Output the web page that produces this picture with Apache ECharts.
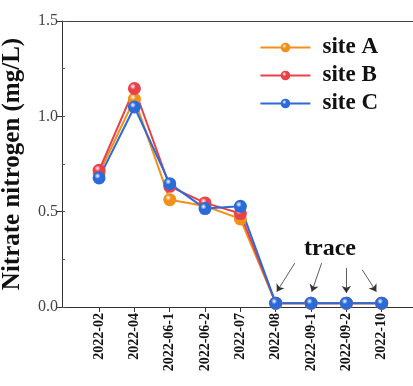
<!DOCTYPE html>
<html><head><meta charset="utf-8">
<script src="https://cdn.jsdelivr.net/npm/echarts@6/dist/echarts.min.js"></script>
<style>html,body{margin:0;padding:0;background:#fff}#c{width:413px;height:386px}</style>
</head><body><div id="c"></div>
<script>
var categories = ['2022-02','2022-04','2022-06-1','2022-06-2','2022-07','2022-08','2022-09-1','2022-09-2','2022-10'];
var siteA = [0.70, 1.09, 0.563, 0.53, 0.462, 0.02, 0.02, 0.02, 0.02];
var siteB = [0.717, 1.146, 0.633, 0.546, 0.49, 0.02, 0.02, 0.02, 0.02];
var siteC = [0.677, 1.049, 0.647, 0.516, 0.528, 0.02, 0.02, 0.02, 0.02];
var traceArrows = [
  [[5.54, 0.23], [5.03, 0.08]],
  [[6.30, 0.23], [6.02, 0.08]],
  [[7.00, 0.205], [7.00, 0.074]],
  [[7.45, 0.195], [7.85, 0.08]]
];
var serif = '"Liberation Serif","DejaVu Serif",serif';
function ball(c){
  return {type:'radial',x:0.38,y:0.35,r:0.65,colorStops:[{offset:0,color:'#ffffff'},{offset:0.35,color:c},{offset:1,color:c}]};
}
function mk(name, data, color){
  return {name:name,type:'line',data:data.map(function(v,i){return [i,v];}),
    symbol:'circle',symbolSize:13,
    lineStyle:{color:color,width:2},
    itemStyle:{color:ball(color),borderWidth:0},
    z:3};
}
var chart = echarts.init(document.getElementById('c'));
var sA = mk('site A', siteA, '#f39018');
var sB = mk('site B', siteB, '#e8414a');
var sC = mk('site C', siteC, '#2a6bd8');
sC.markLine = {silent:true,symbol:['none','arrow'],symbolSize:7,
  lineStyle:{color:'#333',width:0.8,type:'solid'},label:{show:false},
  data:traceArrows.map(function(a){return [{coord:a[0]},{coord:a[1]}];})};
chart.setOption({
  animation:false,
  grid:{left:62,top:21,right:-4,bottom:79,outerBoundsMode:'none',containLabel:false},
  legend:{right:30,top:31,orient:'vertical',itemWidth:50,itemHeight:12,itemGap:5,
    textStyle:{fontFamily:serif,fontWeight:'bold',fontSize:23,color:'#111',padding:[0,0,0,7]},
    data:['site A','site B','site C']},
  xAxis:[{type:'value',min:-1.05,max:9,
    axisLine:{show:true,onZero:false,lineStyle:{color:'#333',width:1}},
    axisTick:{show:true,customValues:[0,1,2,3,4,5,6,7,8],length:5,lineStyle:{color:'#333'}},
    axisLabel:{customValues:[0,1,2,3,4,5,6,7,8],rotate:90,fontFamily:serif,fontWeight:'bold',fontSize:14,color:'#111',margin:6,
      formatter:function(v){return categories[Math.round(v)];}},
    splitLine:{show:false}},
    {type:'value',position:'top',min:-1.05,max:9,axisLine:{show:true,onZero:false,lineStyle:{color:'#444',width:1.2}},axisTick:{show:false},axisLabel:{show:false},splitLine:{show:false}}],
  yAxis:[{type:'value',min:0,max:1.5,interval:0.5,
    name:'Nitrate nitrogen (mg/L)',nameLocation:'middle',nameGap:37,
    nameTextStyle:{fontFamily:serif,fontWeight:'bold',fontSize:25,color:'#111'},
    axisLine:{show:true,onZero:false,lineStyle:{color:'#333'}},
    axisTick:{show:true,length:5,lineStyle:{color:'#333'}},
    axisLabel:{fontFamily:serif,fontSize:16,color:'#444',margin:4,formatter:function(v){return v.toFixed(1);}},
    splitLine:{show:false}},
    {type:'value',position:'left',min:0,max:1.5,interval:0.25,
    axisLine:{show:false,onZero:false},axisTick:{show:true,inside:true,length:3,lineStyle:{color:'#555'}},axisLabel:{show:false},splitLine:{show:false}}],
  graphic:[{type:'text',left:304,top:237,style:{text:'trace',font:'bold 24px '+serif,fill:'#111'}}],
  series:[sA,sB,sC]
});
</script></body></html>
